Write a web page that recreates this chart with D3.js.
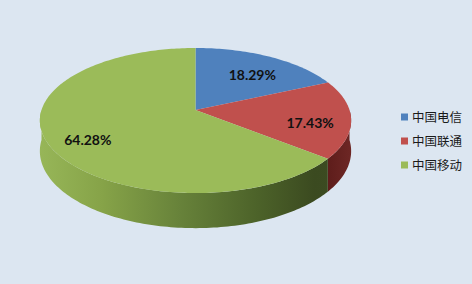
<!DOCTYPE html>
<html><head><meta charset="utf-8">
<script src="https://cdn.jsdelivr.net/npm/d3@7"></script>
<style>html,body{margin:0;padding:0;background:#dce6f1;}svg{display:block;}</style>
</head><body>
<svg id="c" width="472" height="284"></svg>
<script>
const categories = ["中国电信", "中国联通", "中国移动"];
const values = [18.29, 17.43, 64.28];
const labels = ["18.29%", "17.43%", "64.28%"];
const topColors = ["#4f81bd", "#c0504d", "#9bbb59"];

const W = 472, H = 284;
const svg = d3.select("#c");
svg.append("rect").attr("width", W).attr("height", H).attr("fill", "#dce6f1");

const cx = 195.5, cy = 110, rx = 154, ry = 71, p = 0.145, depth = 30;
const proj = (a, f = 1, dz = 0) => {
  const X = Math.sin(a) * f, Y = -Math.cos(a) * f;
  const s = 1 / (1 - p * Y);
  return [cx + rx * X * s, cy + ry * Y * s + dz * s];
};

const pie = d3.pie().sort(null).value(d => d)(values);
const line = d3.line();
const defs = svg.append("defs");

const gGreen = defs.append("linearGradient").attr("id", "gside").attr("gradientUnits", "userSpaceOnUse")
  .attr("x1", 40).attr("x2", 352).attr("y1", 0).attr("y2", 0);
[[0, "#97b658"], [0.2, "#86a348"], [0.45, "#67823a"], [0.7, "#4c6229"], [0.88, "#3b4a20"], [1, "#3d4d22"]]
  .forEach(([o, c]) => gGreen.append("stop").attr("offset", o).attr("stop-color", c));
const gRed = defs.append("linearGradient").attr("id", "rside").attr("gradientUnits", "userSpaceOnUse")
  .attr("x1", 328).attr("x2", 352).attr("y1", 0).attr("y2", 0);
[[0, "#5e1d1b"], [1, "#6e2725"]].forEach(([o, c]) => gRed.append("stop").attr("offset", o).attr("stop-color", c));
const sideFill = ["#3d5a80", "url(#rside)", "url(#gside)"];

function arcPts(a0, a1, dz) {
  const n = Math.max(4, Math.ceil((a1 - a0) / 0.02));
  return d3.range(n + 1).map(i => proj(a0 + (a1 - a0) * i / n, 1, dz));
}

const sides = svg.append("g");
pie.forEach((d, i) => {
  const a0 = Math.max(d.startAngle, Math.PI / 2), a1 = Math.min(d.endAngle, 3 * Math.PI / 2);
  if (a1 <= a0) return;
  const top = arcPts(a0, a1, 0), bot = arcPts(a0, a1, depth).reverse();
  sides.append("path").attr("d", line(top.concat(bot)) + "Z").attr("fill", sideFill[i]);
});

const tops = svg.append("g");
pie.forEach((d, i) => {
  const pts = [proj(0, 0)].concat(arcPts(d.startAngle, d.endAngle, 0));
  tops.append("path").attr("d", line(pts) + "Z").attr("fill", topColors[i]);
});

const lab = svg.append("g").attr("font-family", "Lato, 'Open Sans', sans-serif")
  .attr("font-weight", "bold").attr("font-size", 14).attr("fill", "#111")
  .attr("text-anchor", "middle");
pie.forEach((d, i) => {
  const m = (d.startAngle + d.endAngle) / 2;
  const [x, y] = proj(m, 0.74, 6);
  lab.append("text").attr("x", x).attr("y", y).attr("dy", "0.35em").text(labels[i]);
});

const leg = svg.append("g").attr("transform", "translate(401,117)");
const ly = d3.scalePoint().domain(categories).range([0, 48]);
categories.forEach((c, i) => {
  const g = leg.append("g").attr("transform", `translate(0,${ly(c)})`);
  g.append("rect").attr("x", 0).attr("y", -3.5).attr("width", 7).attr("height", 7).attr("fill", topColors[i]);
  g.append("text").attr("x", 11).attr("y", 0).attr("dy", "0.36em")
    .attr("font-family", "'Noto Sans CJK SC', sans-serif").attr("font-size", 12.5).attr("fill", "#1a1a1a").text(c);
});
</script>
</body></html>
